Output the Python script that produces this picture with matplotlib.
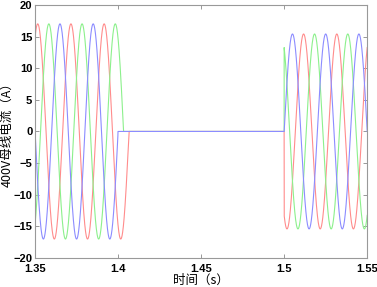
import numpy as np
import matplotlib
matplotlib.use("Agg")
import matplotlib.pyplot as plt

plt.rcParams['font.family'] = ['Liberation Sans', 'Noto Sans CJK SC', 'DejaVu Sans']

# ---- data ----
phases = ['A', 'B', 'C']
colors = ['#ff8c8c', '#8cf08c', '#8c8cff']
amp_before = [17.0, 17.0, 17.0]          # A, peak before switch-off
amp_after = [15.4, 15.4, 15.4]           # A, peak after reclose
peak_before = [1.3516, 1.3583, 1.3650]   # s, a peak time of each phase before 1.4 s
peak_after = [1.5117, 1.5183, 1.5250]    # s, a peak time of each phase after 1.5 s
t_clear = [1.4066, 1.4033, 1.3999]       # s, each phase current reaches zero
t_reclose = [1.5, 1.5, 1.5]              # s
freq = 50.0                              # Hz
xticks = [1.35, 1.4, 1.45, 1.5, 1.55]
yticks = [-20, -15, -10, -5, 0, 5, 10, 15, 20]

fig = plt.figure(figsize=(3.77, 2.87), dpi=100)
ax = fig.add_axes([0.093, 0.101, 0.881, 0.882])

t = np.linspace(1.35, 1.55, 8001)
for i in range(3):
    y = np.where(t < t_clear[i],
                 amp_before[i] * np.cos(2 * np.pi * freq * (t - peak_before[i])),
                 0.0)
    y = np.where(t >= t_reclose[i],
                 amp_after[i] * np.cos(2 * np.pi * freq * (t - peak_after[i])), y)
    ax.plot(t, y, color=colors[i], lw=0.8)

ax.set_xlim(1.35, 1.55)
ax.set_ylim(-20, 20)
ax.set_xticks(xticks)
ax.set_xticklabels([f'{v:g}' for v in xticks])
ax.set_yticks(yticks)
ax.tick_params(direction='in', top=True, right=True, length=3, width=0.6,
               colors='#888888', labelcolor='black', labelsize=8)
ax.tick_params(axis='y', pad=2)
ax.tick_params(axis='x', pad=4)
for lab in ax.get_xticklabels() + ax.get_yticklabels():
    lab.set_fontweight('bold')
for s in ax.spines.values():
    s.set_color('#999999')
    s.set_linewidth(0.8)

ax.set_xlabel('时间（s）', fontsize=9, family=['Noto Sans CJK SC', 'DejaVu Sans'], labelpad=0)
ax.set_ylabel('400V母线电流（A）', fontsize=9, family=['Noto Sans CJK SC', 'DejaVu Sans'], labelpad=0)

fig.savefig('out.png', dpi=100)
